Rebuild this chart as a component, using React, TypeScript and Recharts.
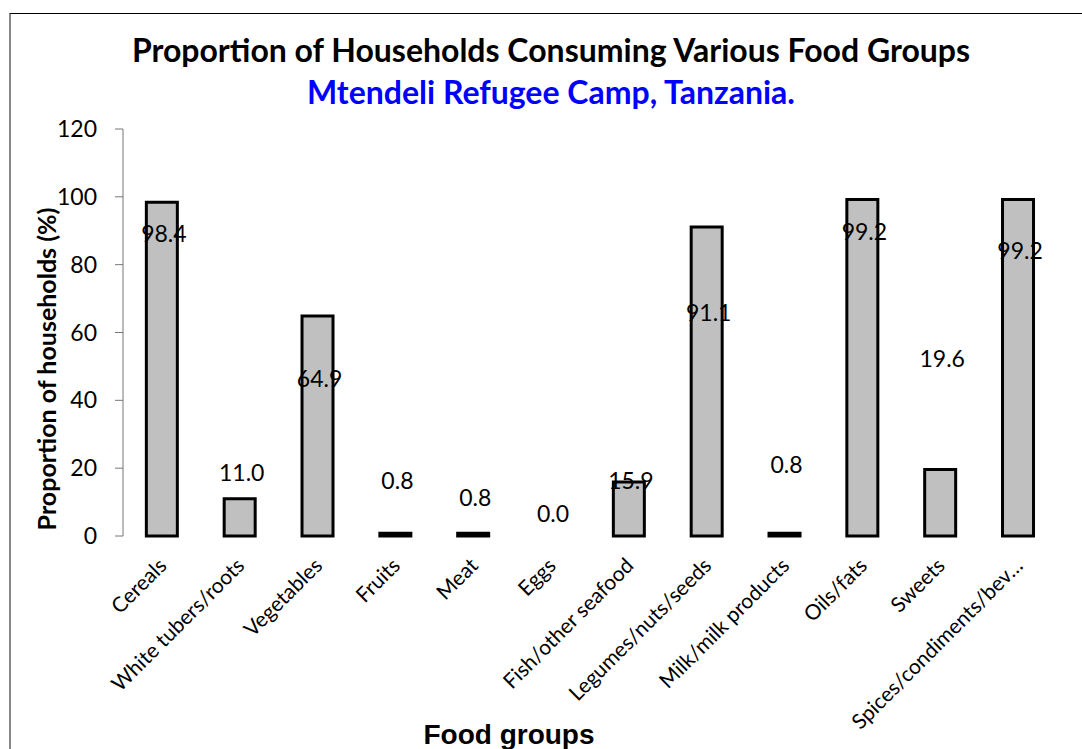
import React from 'react';
import { Bar, ComposedChart, LabelList, Line, XAxis, YAxis } from 'recharts';

// Food groups and share of households (%)
const foodGroups = [
  'Cereals',
  'White tubers/roots',
  'Vegetables',
  'Fruits',
  'Meat',
  'Eggs',
  'Fish/other seafood',
  'Legumes/nuts/seeds',
  'Milk/milk products',
  'Oils/fats',
  'Sweets',
  'Spices/condiments/bev…',
];
const proportions = [98.4, 11.0, 64.9, 0.8, 0.8, 0.0, 15.9, 91.1, 0.8, 99.2, 19.6, 99.2];
const yTicks = [0, 20, 40, 60, 80, 100, 120];

// label nudges (px from bar top), the original labels were dragged around by hand
const labelNudge = [31, -27, 62, -53, -36, -23, -2, 85, -69, 31, -112, 50];

const data = foodGroups.map((name, i) => ({
  name,
  value: proportions[i],
  pos: i + 0.5,
}));
const boundaryTicks = foodGroups.map((_, i) => i).concat(foodGroups.length);

const sans = 'Lato, "Open Sans", sans-serif';

const CategoryTick = ({ x, y, payload }: any) => (
  <text
    x={x}
    y={y + 17}
    transform={`rotate(-45, ${x}, ${y + 17})`}
    textAnchor="end"
    dominantBaseline="central"
    fontFamily={sans}
    fontSize={21}
    fill="#000"
  >
    {payload.value}
  </text>
);

// labels hang off an invisible line so the zero bar (Eggs) still gets one
const ValueLabel = ({ x, y, value }: any) => {
  const i = foodGroups.indexOf(value);
  return (
    <text
      x={x + 2}
      y={y + labelNudge[i]}
      textAnchor="middle"
      dominantBaseline="central"
      fontFamily={sans}
      fontSize={23}
      fill="#000"
    >
      {proportions[i].toFixed(1)}
    </text>
  );
};

export default function App() {
  return (
    <div
      style={{
        position: 'fixed',
        left: 0,
        top: 0,
        width: 1082,
        height: 749,
        overflow: 'hidden',
        background: '#fff',
      }}
    >
      {/* chart frame, the right and bottom edges fall outside the picture */}
      <div
        style={{
          position: 'absolute',
          left: 9,
          top: 13,
          width: 1100,
          height: 800,
          borderTop: '1px solid #000',
          borderLeft: '2px solid #888',
        }}
      />
      <div
        style={{
          position: 'absolute',
          left: 0,
          width: 1102,
          top: 29,
          textAlign: 'center',
          fontFamily: sans,
          fontWeight: 700,
          fontSize: 32,
          lineHeight: '42px',
          color: '#000',
        }}
      >
        Proportion of Households Consuming Various Food Groups
        <div style={{ color: '#0000ff' }}>Mtendeli Refugee Camp, Tanzania.</div>
      </div>
      <div
        style={{
          position: 'absolute',
          left: 46,
          top: 369,
          transform: 'translate(-50%, -50%) rotate(-90deg)',
          whiteSpace: 'nowrap',
          fontFamily: sans,
          fontWeight: 700,
          fontSize: 25,
          color: '#000',
        }}
      >
        Proportion of households (%)
      </div>
      <div
        style={{
          position: 'absolute',
          left: 509,
          top: 735,
          transform: 'translate(-50%, -50%)',
          whiteSpace: 'nowrap',
          fontFamily: '"Liberation Sans", Arial, sans-serif',
          fontWeight: 700,
          fontSize: 28,
          lineHeight: '32px',
          color: '#000',
        }}
      >
        Food groups
      </div>
      <div style={{ position: 'absolute', left: 0, top: 0 }}>
        <ComposedChart
          width={1082}
          height={749}
          data={data}
          margin={{ top: 129, right: 25, left: 63, bottom: 5 }}
          barCategoryGap="30%"
        >
          {/* number axis only draws the tick marks between categories */}
          <XAxis
            dataKey="pos"
            type="number"
            domain={[0, foodGroups.length]}
            ticks={boundaryTicks}
            tickFormatter={() => ''}
            height={0}
            tickSize={7}
            stroke="#333"
            tickLine={{ stroke: '#777' }}
          />
          <XAxis
            xAxisId="cat"
            dataKey="name"
            type="category"
            interval={0}
            height={208}
            axisLine={false}
            tickLine={false}
            tick={<CategoryTick />}
          />
          <YAxis
            domain={[0, 120]}
            ticks={yTicks}
            width={60}
            tickSize={8}
            tickMargin={18}
            stroke="#777"
            tick={{ fill: '#000', fontSize: 23, fontFamily: sans }}
          />
          <Bar
            xAxisId="cat"
            dataKey="value"
            fill="#c0c0c0"
            stroke="#000"
            strokeWidth={3}
            isAnimationActive={false}
          />
          <Line
            xAxisId="cat"
            dataKey="value"
            stroke="none"
            dot={false}
            activeDot={false}
            isAnimationActive={false}
          >
            <LabelList dataKey="name" content={<ValueLabel />} />
          </Line>
        </ComposedChart>
      </div>
    </div>
  );
}
